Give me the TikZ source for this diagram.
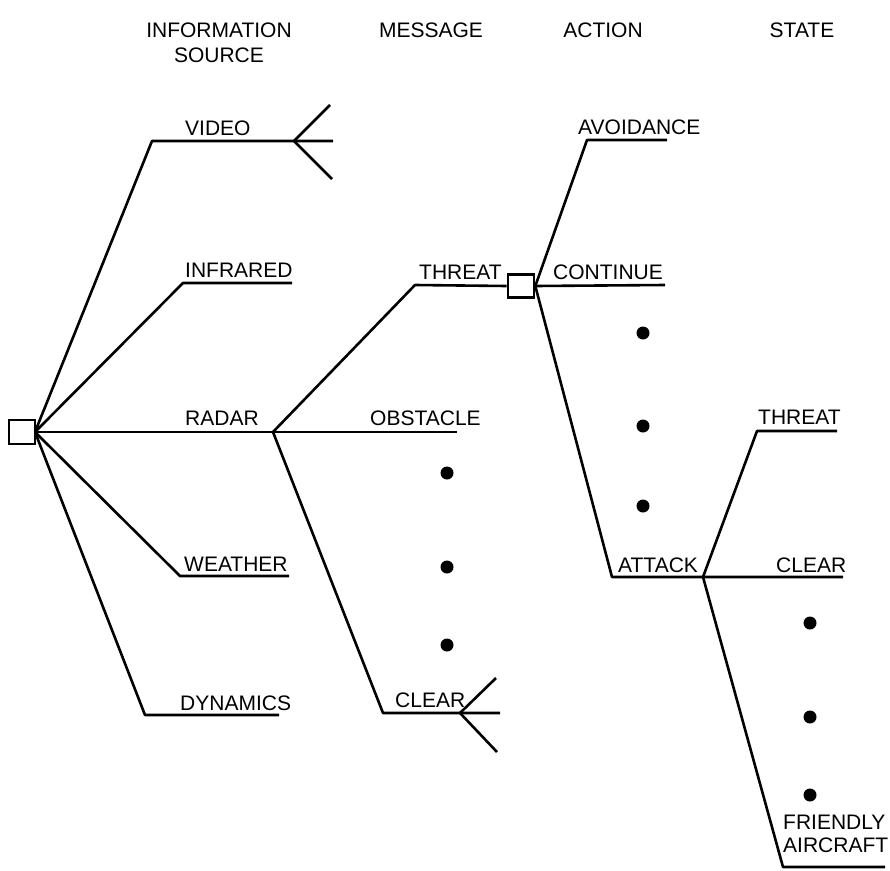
\documentclass[tikz,border=0pt]{standalone}
\usepackage{fontspec}
\setmainfont{Liberation Sans}
\tikzset{
  ramo/.style={line width=2.6pt, line join=round},
  etichetta/.style={anchor=base west, inner sep=0pt, align=left, font=\fontsize{21}{23}\selectfont},
  titolo/.style={anchor=base, inner sep=0pt, align=center, font=\fontsize{21}{25}\selectfont},
  scatola/.style={draw, line width=2.6pt, fill=white, minimum width=26pt, minimum height=24pt, inner sep=0pt},
  punto/.style={circle, fill=black, minimum size=13pt, inner sep=0pt}
}
\begin{document}
\begin{tikzpicture}[x=1pt,y=-1pt]
        \useasboundingbox (0,0) rectangle (890,870);
        % Titoli
        \node[titolo] (tSorgente) at (219,62) {INFORMATION\\SOURCE};
        \node[titolo] (tMessaggio) at (431,37) {MESSAGE};
        \node[titolo] (tAzione) at (603,37) {ACTION};
        \node[titolo] (tStato) at (802,37) {STATE};
        % Punti di rami
        \coordinate (radar) at (273,432);
        \coordinate (attacco) at (703,577);
        \coordinate (video0) at (152,141);
        \coordinate (video1) at (333,141);
        \coordinate (infra0) at (183,283);
        \coordinate (infra1) at (292,283);
        \coordinate (ostacolo1) at (457,432);
        \coordinate (meteo0) at (180,576);
        \coordinate (meteo1) at (289,576);
        \coordinate (dinam0) at (145,715);
        \coordinate (dinam1) at (279,715);
        \coordinate (minaccia0) at (415,285);
        \coordinate (libero0) at (383,713);
        \coordinate (libero1) at (500,713);
        \coordinate (evita0) at (587,140);
        \coordinate (evita1) at (667,140);
        \coordinate (continua1) at (665,285);
        \coordinate (attacco0) at (612,577);
        \coordinate (sLibero1) at (843,577);
        \coordinate (sMinaccia0) at (757,431);
        \coordinate (sMinaccia1) at (837,431);
        \coordinate (amico0) at (783,867);
        \coordinate (amico1) at (885,867);
        % Ventagli
        \coordinate (ventVideo) at (294,141);
        \coordinate (ventVideoA) at (330,105);
        \coordinate (ventVideoB) at (332,179);
        \coordinate (ventLibero) at (460,713);
        \coordinate (ventLiberoA) at (496,678);
        \coordinate (ventLiberoB) at (497,752);
        % Sorgenti
        \draw[ramo] (35,432) -- (video0) -- (video1);
        \draw[ramo] (ventVideoA) -- (ventVideo) -- (ventVideoB);
        \draw[ramo] (35,432) -- (infra0) -- (infra1);
        \draw[ramo] (35,432) -- (radar) -- (ostacolo1);
        \draw[ramo] (35,432) -- (meteo0) -- (meteo1);
        \draw[ramo] (35,432) -- (dinam0) -- (dinam1);
        \node[scatola] (radice) at (22,432) {};
        % Messaggi
        \node[scatola, minimum height=23pt] (minaccia) at (521,286) {};
        \draw[ramo] (radar) -- (minaccia0) -- (minaccia.west);
        \draw[ramo] (radar) -- (libero0) -- (libero1);
        \draw[ramo] (ventLiberoA) -- (ventLibero) -- (ventLiberoB);
        % Azioni
        \draw[ramo] (minaccia.east) -- (evita0) -- (evita1);
        \draw[ramo] (minaccia.east) -- (continua1);
        \draw[ramo] (minaccia.east) -- (attacco0) -- (attacco) -- (sLibero1);
        % Stati
        \draw[ramo] (attacco) -- (sMinaccia0) -- (sMinaccia1);
        \draw[ramo] (attacco) -- (amico0) -- (amico1);
        % Etichette
        \node[etichetta] (lVideo) at (185,135) {VIDEO};
        \node[etichetta] (lInfra) at (185,277) {INFRARED};
        \node[etichetta] (lRadar) at (185,425) {RADAR};
        \node[etichetta] (lMeteo) at (184,571) {WEATHER};
        \node[etichetta] (lDinam) at (180,710) {DYNAMICS};
        \node[etichetta] (lMinaccia) at (419,279) {THREAT};
        \node[etichetta] (lOstacolo) at (370,425) {OBSTACLE};
        \node[etichetta] (lLibero) at (395,707) {CLEAR};
        \node[etichetta] (lEvita) at (578,134) {AVOIDANCE};
        \node[etichetta] (lContinua) at (553,279) {CONTINUE};
        \node[etichetta] (lAttacco) at (618,572) {ATTACK};
        \node[etichetta] (lsMinaccia) at (758,424) {THREAT};
        \node[etichetta] (lsLibero) at (776,572) {CLEAR};
        \node[etichetta] (lAmico) at (783,852) {FRIENDLY\\AIRCRAFT};
        % Punti
        \node[punto] (pM1) at (447,473) {};
        \node[punto] (pM2) at (447,567) {};
        \node[punto] (pM3) at (447,645) {};
        \node[punto] (pA1) at (643,333) {};
        \node[punto] (pA2) at (643,426) {};
        \node[punto] (pA3) at (643,506) {};
        \node[punto] (pS1) at (810,623) {};
        \node[punto] (pS2) at (810,717) {};
        \node[punto] (pS3) at (810,795) {};
\end{tikzpicture}
\end{document}
